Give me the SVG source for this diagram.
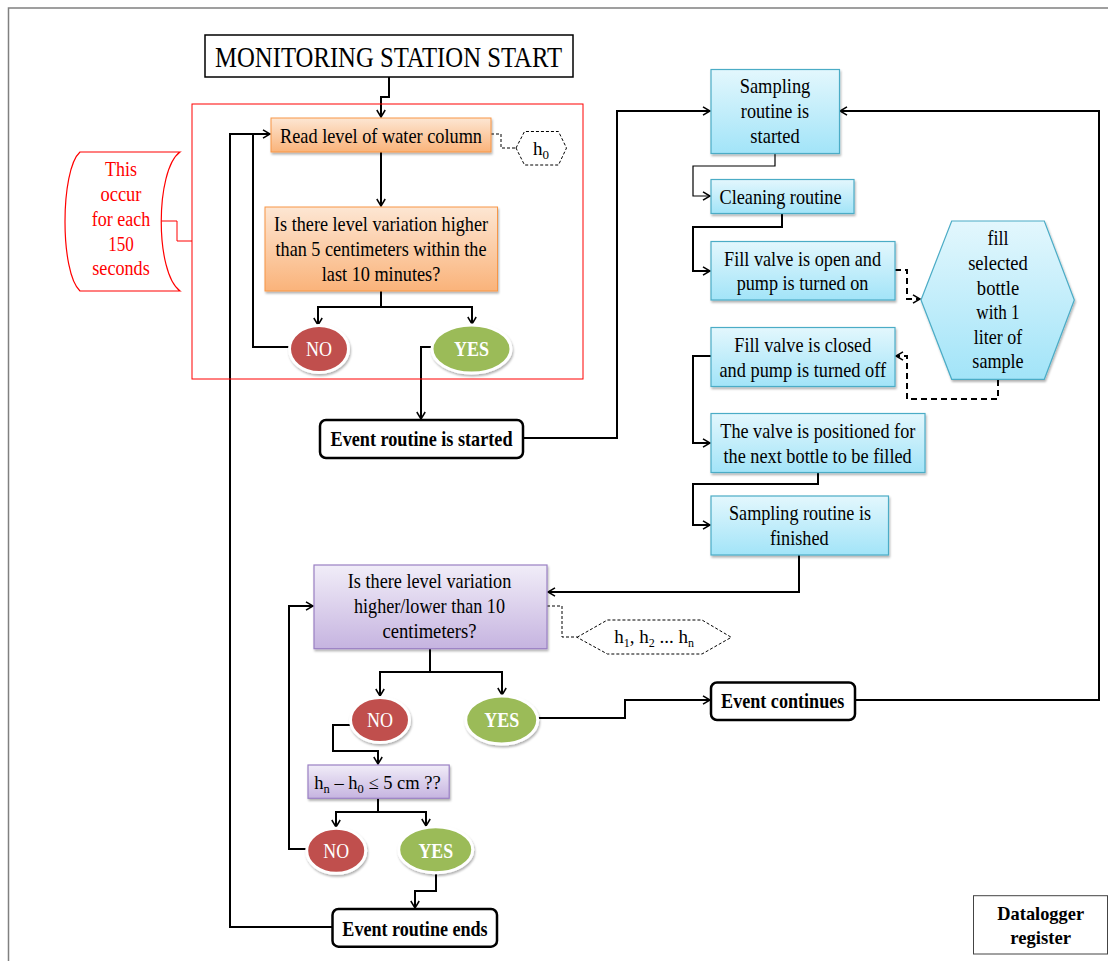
<svg xmlns="http://www.w3.org/2000/svg" width="1108" height="961" viewBox="0 0 1108 961">
<style>
.t{font-family:"Liberation Serif","Times New Roman",serif;text-anchor:middle;fill:#000;font-size:21px}
.b{font-weight:bold}
.red{fill:#ff0000;font-size:20px}
.w{fill:#fff;font-size:20px}
.c{fill:none;stroke:#000;stroke-width:2}
.thin{fill:none;stroke:#000;stroke-width:1.2}
.dsm{fill:none;stroke:#000;stroke-width:1;stroke-dasharray:3,2}
.dbg{fill:none;stroke:#000;stroke-width:2;stroke-dasharray:6,4}
.org{fill:url(#gO);stroke:#f79646;stroke-width:1}
.cy{fill:url(#gC);stroke:#4bacc6;stroke-width:1.2}
.pu{fill:url(#gP);stroke:#9a80c4;stroke-width:1.2}
.rr{fill:#fff;stroke:#000;stroke-width:2.5}
</style>
<defs>
<linearGradient id="gO" x1="0" y1="0" x2="0" y2="1"><stop offset="0" stop-color="#fde6d3"/><stop offset="1" stop-color="#fab37a"/></linearGradient>
<linearGradient id="gC" x1="0" y1="0" x2="0" y2="1"><stop offset="0" stop-color="#e3f7fd"/><stop offset="1" stop-color="#a2e4f8"/></linearGradient>
<linearGradient id="gP" x1="0" y1="0" x2="0" y2="1"><stop offset="0" stop-color="#f1edf8"/><stop offset="1" stop-color="#c6b4e0"/></linearGradient>
<filter id="sh" x="-10%" y="-10%" width="130%" height="150%"><feDropShadow dx="1" dy="2" stdDeviation="1.2" flood-color="#000" flood-opacity="0.3"/></filter>
<marker id="a" markerWidth="10" markerHeight="10" refX="8" refY="5" orient="auto" markerUnits="userSpaceOnUse"><path d="M1,0.8 L8,5 L1,9.2" fill="none" stroke="#000" stroke-width="1.5"/></marker>
</defs>
<rect width="1108" height="961" fill="#fff"/>
<path d="M8.5,961 V8 H1108" fill="none" stroke="#808080" stroke-width="1.5"/>

<g id="connectors">
<path class="c" d="M389,77 V97 H381 V117" marker-end="url(#a)"/>
<path class="c" d="M381,152 V206" marker-end="url(#a)"/>
<path class="c" d="M381,291 V307"/>
<path class="c" d="M381,307 H318 V325" marker-end="url(#a)"/>
<path class="c" d="M381,307 H472 V324" marker-end="url(#a)"/>
<path class="c" d="M291,347 H253 V134 H270" marker-end="url(#a)"/>
<path class="c" d="M332,927 H230 V134 H253"/>
<path class="c" d="M432,347 H421 V419" marker-end="url(#a)"/>
<path class="c" d="M523,438 H617 V111 H710" marker-end="url(#a)"/>
<path class="c" d="M855,700 H1099 V111 H840" marker-end="url(#a)"/>
<path class="thin" d="M775,153 V166 H693 V196 H710" marker-end="url(#a)"/>
<path class="c" d="M782,213 V227 H693 V271 H710" marker-end="url(#a)"/>
<path class="c" d="M711,356 H693 V443 H710" marker-end="url(#a)"/>
<path class="c" d="M818,473 V484 H693 V525 H710" marker-end="url(#a)"/>
<path class="c" d="M799,555 V592 H548" marker-end="url(#a)"/>
<path class="c" d="M430,649 V672"/>
<path class="c" d="M430,672 H380 V696" marker-end="url(#a)"/>
<path class="c" d="M430,672 H502 V695" marker-end="url(#a)"/>
<path class="c" d="M538,718 H625 V700 H710" marker-end="url(#a)"/>
<path class="c" d="M351,725 H333 V751 H378 V764" marker-end="url(#a)"/>
<path class="c" d="M378,798 V812"/>
<path class="c" d="M378,812 H336 V827" marker-end="url(#a)"/>
<path class="c" d="M378,812 H426 V826" marker-end="url(#a)"/>
<path class="c" d="M307,849 H289 V606 H313" marker-end="url(#a)"/>
<path class="c" d="M436,873 V891 H415 V908" marker-end="url(#a)"/>
<path class="dsm" d="M491,134 H501 V148 H516"/>
<path class="dsm" d="M547,606 H562 V637 H577"/>
<path class="dbg" d="M895,270 H907 V299 H920" marker-end="url(#a)"/>
<path class="dbg" d="M998,380 V399 H907 V356 H896" marker-end="url(#a)"/>
<path d="M161,221 H177 V241 H192" fill="none" stroke="#ff0000" stroke-width="1"/>
</g>

<g id="start">
<rect x="205" y="35" width="368" height="42" fill="#fff" stroke="#000" stroke-width="1.5"/>
<text class="t" x="388.5" y="66.5" style="font-size:29px" textLength="347" lengthAdjust="spacingAndGlyphs">MONITORING STATION START</text>
</g>

<g id="loop-frame">
<rect x="192" y="104" width="391" height="275" fill="none" stroke="#ff0000" stroke-width="1"/>
</g>

<g id="interval-note">
<path d="M80,152 H180 C155,170 155,273 180,291 H80 C60,273 60,170 80,152 Z" fill="#fff" stroke="#ff0000" stroke-width="1.2"/>
<text class="t red" x="121" y="175.7" textLength="32" lengthAdjust="spacingAndGlyphs">This</text>
<text class="t red" x="121" y="200.7" textLength="41" lengthAdjust="spacingAndGlyphs">occur</text>
<text class="t red" x="121" y="226" textLength="58.5" lengthAdjust="spacingAndGlyphs">for each</text>
<text class="t red" x="121" y="250.7" textLength="25.6" lengthAdjust="spacingAndGlyphs">150</text>
<text class="t red" x="121" y="275" textLength="57.4" lengthAdjust="spacingAndGlyphs">seconds</text>
</g>

<g id="read-level">
<rect class="org" x="271" y="118" width="220" height="34" filter="url(#sh)"/>
<text class="t" x="381" y="142.5" textLength="202" lengthAdjust="spacingAndGlyphs">Read level of water column</text>
</g>

<g id="h0">
<polygon points="516,148 524.5,131.5 558.5,131.5 566.5,148 558.5,165 524.5,165" fill="#fff" stroke="#000" stroke-width="1" stroke-dasharray="3,2"/>
<text class="t" x="541" y="155" style="font-size:19px">h<tspan dy="4" style="font-size:13px">0</tspan></text>
</g>

<g id="decision1">
<rect class="org" x="265" y="207" width="232.5" height="84" filter="url(#sh)"/>
<text class="t" x="381" y="230.7" textLength="214" lengthAdjust="spacingAndGlyphs">Is there level variation higher</text>
<text class="t" x="381" y="256" textLength="211" lengthAdjust="spacingAndGlyphs">than 5 centimeters within the</text>
<text class="t" x="381" y="280.7" textLength="118.5" lengthAdjust="spacingAndGlyphs">last 10 minutes?</text>
</g>

<g id="no1">
<ellipse cx="319" cy="349" rx="29.5" ry="23.5" fill="#c0504d" stroke="#fff" stroke-width="3" filter="url(#sh)"/>
<text class="t w" x="319" y="356" textLength="26" lengthAdjust="spacingAndGlyphs">NO</text>
</g>
<g id="yes1">
<ellipse cx="471.5" cy="349" rx="39.5" ry="24" fill="#9bbb59" stroke="#fff" stroke-width="3" filter="url(#sh)"/>
<text class="t w b" x="471.5" y="356" textLength="35" lengthAdjust="spacingAndGlyphs">YES</text>
</g>

<g id="event-started">
<rect class="rr" x="320" y="420" width="203" height="38" rx="6"/>
<text class="t b" x="421.5" y="446" textLength="182" lengthAdjust="spacingAndGlyphs">Event routine is started</text>
</g>

<g id="sampling-started">
<rect class="cy" x="711" y="69.5" width="128.5" height="84" filter="url(#sh)"/>
<text class="t" x="775" y="93.3" textLength="70.7" lengthAdjust="spacingAndGlyphs">Sampling</text>
<text class="t" x="775" y="118.3" textLength="68.3" lengthAdjust="spacingAndGlyphs">routine is</text>
<text class="t" x="775" y="143.3" textLength="49.3" lengthAdjust="spacingAndGlyphs">started</text>
</g>

<g id="cleaning">
<rect class="cy" x="711" y="179.5" width="143" height="34" filter="url(#sh)"/>
<text class="t" x="780.5" y="204" textLength="122" lengthAdjust="spacingAndGlyphs">Cleaning routine</text>
</g>

<g id="fill-open">
<rect class="cy" x="711" y="241.5" width="184" height="58.5" filter="url(#sh)"/>
<text class="t" x="802.5" y="266" textLength="157" lengthAdjust="spacingAndGlyphs">Fill valve is open and</text>
<text class="t" x="802.5" y="289.5" textLength="131.7" lengthAdjust="spacingAndGlyphs">pump is turned on</text>
</g>

<g id="fill-bottle">
<polygon class="cy" points="921,300 951.7,221 1044.3,221 1074.3,300 1044.3,379.3 951.7,379.3" filter="url(#sh)"/>
<text class="t" x="998" y="245" textLength="21" lengthAdjust="spacingAndGlyphs">fill</text>
<text class="t" x="998" y="270" textLength="59.7" lengthAdjust="spacingAndGlyphs">selected</text>
<text class="t" x="998" y="295" textLength="42.3" lengthAdjust="spacingAndGlyphs">bottle</text>
<text class="t" x="998" y="319.3" textLength="43.3" lengthAdjust="spacingAndGlyphs">with 1</text>
<text class="t" x="998" y="344" textLength="48.3" lengthAdjust="spacingAndGlyphs">liter of</text>
<text class="t" x="998" y="368.3" textLength="51.3" lengthAdjust="spacingAndGlyphs">sample</text>
</g>

<g id="fill-closed">
<rect class="cy" x="711" y="327.5" width="184" height="59" filter="url(#sh)"/>
<text class="t" x="802.8" y="351.7" textLength="137" lengthAdjust="spacingAndGlyphs">Fill valve is closed</text>
<text class="t" x="802.8" y="376.5" textLength="166.7" lengthAdjust="spacingAndGlyphs">and pump is turned off</text>
</g>

<g id="valve-positioned">
<rect class="cy" x="711" y="413.5" width="214" height="59" filter="url(#sh)"/>
<text class="t" x="817.8" y="437.7" textLength="195" lengthAdjust="spacingAndGlyphs">The valve is positioned for</text>
<text class="t" x="817.6" y="462.7" textLength="188.3" lengthAdjust="spacingAndGlyphs">the next bottle to be filled</text>
</g>

<g id="sampling-finished">
<rect class="cy" x="711" y="496" width="177.5" height="59" filter="url(#sh)"/>
<text class="t" x="800" y="520" textLength="142" lengthAdjust="spacingAndGlyphs">Sampling routine is</text>
<text class="t" x="799.3" y="545" textLength="58.7" lengthAdjust="spacingAndGlyphs">finished</text>
</g>

<g id="decision2">
<rect class="pu" x="314" y="565" width="233" height="83.7" filter="url(#sh)"/>
<text class="t" x="429.5" y="588.3" textLength="163.5" lengthAdjust="spacingAndGlyphs">Is there level variation</text>
<text class="t" x="429.5" y="613.3" textLength="151" lengthAdjust="spacingAndGlyphs">higher/lower than 10</text>
<text class="t" x="429.5" y="638.3" textLength="94" lengthAdjust="spacingAndGlyphs">centimeters?</text>
</g>

<g id="hn-values">
<polygon points="577,637.3 607.4,620 702,620 731.3,637.3 702,654 607.4,654" fill="#fff" stroke="#000" stroke-width="1" stroke-dasharray="3,2"/>
<text class="t" x="654" y="643" style="font-size:19px">h<tspan dy="4" style="font-size:12px">1</tspan><tspan dy="-4">, h</tspan><tspan dy="4" style="font-size:12px">2</tspan><tspan dy="-4"> ... h</tspan><tspan dy="4" style="font-size:12px">n</tspan></text>
</g>

<g id="no2">
<ellipse cx="380" cy="720" rx="29.5" ry="22.5" fill="#c0504d" stroke="#fff" stroke-width="3" filter="url(#sh)"/>
<text class="t w" x="380" y="727" textLength="26" lengthAdjust="spacingAndGlyphs">NO</text>
</g>
<g id="yes2">
<ellipse cx="501.7" cy="720" rx="36" ry="24" fill="#9bbb59" stroke="#fff" stroke-width="3" filter="url(#sh)"/>
<text class="t w b" x="501.7" y="727" textLength="35" lengthAdjust="spacingAndGlyphs">YES</text>
</g>

<g id="event-continues">
<rect class="rr" x="711" y="682.5" width="144" height="37.5" rx="6"/>
<text class="t b" x="782.7" y="708.3" textLength="123.3" lengthAdjust="spacingAndGlyphs">Event continues</text>
</g>

<g id="hn-check">
<rect class="pu" x="308" y="765" width="141.2" height="33.3" filter="url(#sh)"/>
<text class="t" x="377.5" y="789" style="font-size:18.5px">h<tspan dy="4" style="font-size:12.5px">n</tspan><tspan dy="-4"> – h</tspan><tspan dy="4" style="font-size:12.5px">0</tspan><tspan dy="-4"> ≤ 5 cm ??</tspan></text>
</g>

<g id="no3">
<ellipse cx="336.2" cy="850.8" rx="29.5" ry="22.5" fill="#c0504d" stroke="#fff" stroke-width="3" filter="url(#sh)"/>
<text class="t w" x="336.2" y="857.7" textLength="25.7" lengthAdjust="spacingAndGlyphs">NO</text>
</g>
<g id="yes3">
<ellipse cx="435.7" cy="849.7" rx="37" ry="23" fill="#9bbb59" stroke="#fff" stroke-width="3" filter="url(#sh)"/>
<text class="t w b" x="435.8" y="857.7" textLength="34.6" lengthAdjust="spacingAndGlyphs">YES</text>
</g>

<g id="event-ends">
<rect class="rr" x="332.5" y="909" width="164.5" height="37.7" rx="6"/>
<text class="t b" x="415" y="936" textLength="145.3" lengthAdjust="spacingAndGlyphs">Event routine ends</text>
</g>

<g id="datalogger">
<rect x="973.5" y="895.7" width="134" height="58.3" fill="#fff" stroke="#444" stroke-width="1"/>
<text class="t b" x="1040.7" y="920" style="font-size:19px" textLength="86.7" lengthAdjust="spacingAndGlyphs">Datalogger</text>
<text class="t b" x="1040.7" y="944" style="font-size:19px" textLength="60.7" lengthAdjust="spacingAndGlyphs">register</text>
</g>
</svg>
